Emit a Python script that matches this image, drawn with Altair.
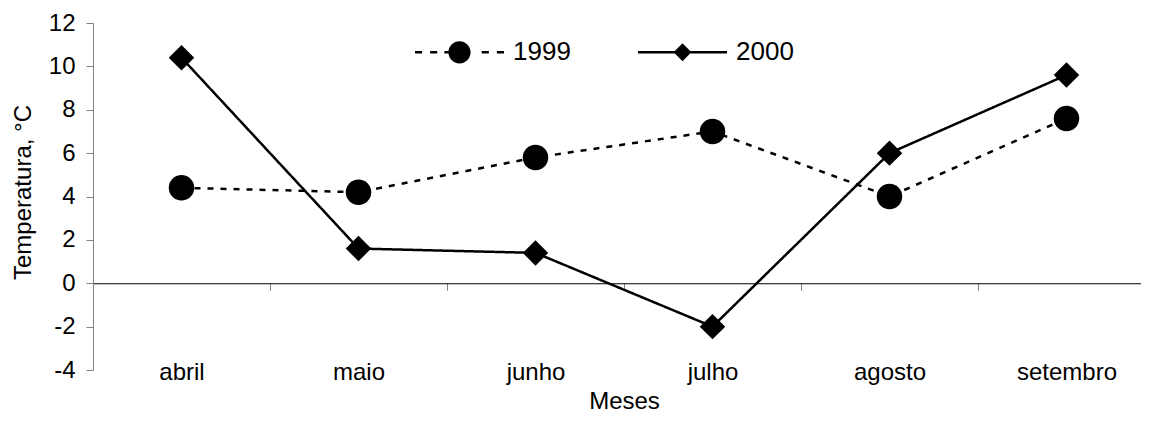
import altair as alt
import pandas as pd

# ---- data ----
meses = ["abril", "maio", "junho", "julho", "agosto", "setembro"]
t1999 = [4.4, 4.2, 5.8, 7.0, 4.0, 7.6]
t2000 = [10.4, 1.6, 1.4, -2.0, 6.0, 9.6]
anos = ["1999", "2000"]
y_ticks = [-4, -2, 0, 2, 4, 6, 8, 10, 12]

df = pd.DataFrame({
    "Mês": meses * 2,
    "Temperatura": t1999 + t2000,
    "Ano": [anos[0]] * len(meses) + [anos[1]] * len(meses),
})

# layout
PAD_L, PAD_T, PAD_R = 85, 15, 0
W_VIEW = 1048            # visible plot width
X_RANGE = 1062           # full category range (last band runs off the page edge)
H = 347
PAD_B = 406 - PAD_T - H
FONT = "Liberation Sans"
FS = 24
Y_MIN, Y_MAX = -4, 12
zero_offset = -H * (0 - Y_MIN) / (Y_MAX - Y_MIN)

# legend glyphs (line + marker) as filled paths, unit coordinates in [-1, 1]
T = 0.028


def bar(a, b):
    return f"M{a},{-T}H{b}V{T}H{a}Z"


P1999 = (bar(-1, -0.84) + bar(-0.66, -0.5) + bar(-0.34, -0.25)
         + "M-0.25,0A0.25,0.25 0 1,1 0.25,0A0.25,0.25 0 1,1 -0.25,0Z"
         + bar(0.5, 0.66) + bar(0.84, 1))
P2000 = bar(-1, 1) + "M-0.2,0L0,-0.2L0.2,0L0,0.2Z"

x_enc = alt.X(
    "Mês:N", sort=meses, bandPosition=0.5,
    scale=alt.Scale(type="band", paddingInner=0, paddingOuter=0, range=[0, X_RANGE]),
    axis=alt.Axis(
        title="Meses", orient="bottom", offset=zero_offset,
        domain=True, domainColor="black", domainWidth=1,
        ticks=True, tickBand="extent", tickSize=7, tickColor="#808080", tickWidth=1,
        labelPadding=82, labelBaseline="middle", labelAngle=0,
        labelFont=FONT, labelFontSize=FS, labelColor="black",
        titleFont=FONT, titleFontSize=FS, titleFontWeight="normal", titleColor="black",
        titleX=X_RANGE / 2, titleY=125, titleBaseline="alphabetic", titleAlign="center",
        grid=False,
    ),
)
y_enc = alt.Y(
    "Temperatura:Q",
    scale=alt.Scale(domain=[Y_MIN, Y_MAX], nice=False, zero=False),
    axis=alt.Axis(
        values=y_ticks, labelExpr="toString(datum.value)",
        domainColor="#808080", domainWidth=1,
        tickColor="#808080", tickSize=7, tickWidth=1,
        labelPadding=11, labelFont=FONT, labelFontSize=FS, labelColor="black",
        title="Temperatura, °C", titleFont=FONT, titleFontSize=FS,
        titleFontWeight="normal", titleColor="black",
        titleX=-70, titleY=169, titleBaseline="middle", titleAlign="center",
        grid=False,
    ),
)

base = alt.Chart(df)

lines = base.mark_line(color="black", strokeWidth=2.5).encode(
    x=x_enc, y=y_enc,
    strokeDash=alt.StrokeDash("Ano:N", scale=alt.Scale(domain=anos, range=[[6, 7], [1, 0]]), legend=None),
)

points = base.mark_point(filled=True, color="black", opacity=1, size=650).encode(
    x=x_enc, y=y_enc,
    shape=alt.Shape("Ano:N", scale=alt.Scale(domain=anos, range=["circle", "diamond"]), legend=None),
)

legend_layer = base.transform_filter("false").mark_point(
    filled=True, color="black", opacity=1
).encode(
    shape=alt.Shape(
        "Ano:N",
        scale=alt.Scale(domain=anos, range=[P1999, P2000]),
        legend=alt.Legend(
            title=None, orient="none", legendX=322, legendY=-15.5,
            direction="horizontal", symbolSize=7921, symbolStrokeWidth=0,
            symbolFillColor="black",
            labelFont=FONT, labelFontSize=26, labelColor="black",
            labelOffset=9, columnPadding=67, padding=0,
        ),
    )
)

chart = (
    alt.layer(lines, points, legend_layer)
    .resolve_scale(shape="independent")
    .resolve_legend(shape="independent")
    .properties(
        width=W_VIEW, height=H,
        autosize=alt.AutoSizeParams(type="none"),
        padding={"left": PAD_L, "top": PAD_T, "right": PAD_R, "bottom": PAD_B},
        background="white",
    )
    .configure_view(strokeWidth=0)
)

chart.save("out.html", embed_options={"renderer": "svg", "actions": False})
